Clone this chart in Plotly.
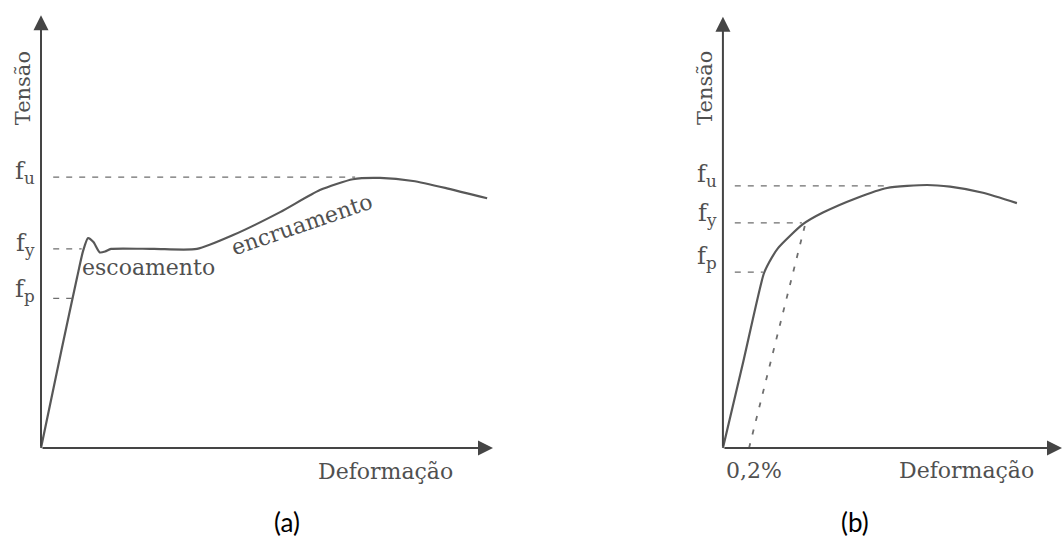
import plotly.graph_objects as go

# ---------------- data (arbitrary schematic units, 0-100) ----------------
# Panel (a): steel with yield plateau
a_strain = [0, 4.5, 8.0, 9.3, 10.4, 11.6, 13.0, 14.2, 15.5, 25.0, 34.5, 42.5, 52.9, 61.7, 69.0, 75.0, 82.3, 89.8, 98.7]
a_stress = [0, 22.5, 39.5, 45.5, 48.5, 47.6, 45.2, 45.4, 46.0, 46.0, 46.0, 49.2, 54.5, 59.6, 62.1, 62.4, 61.7, 60.0, 57.7]
a_ref_labels = ["f<sub>u</sub>", "f<sub>y</sub>", "f<sub>p</sub>"]
a_ref_stress = [62.6, 46.0, 34.6]
a_ref_end = [69.5, 9.0, 8.2]

# Panel (b): material without yield plateau (0,2% offset)
b_strain = [0, 6.0, 12.0, 13.6, 16.2, 23.6, 29.5, 39.5, 48.4, 60.2, 67.0, 76.7, 86.7]
b_stress = [0, 20.0, 40.3, 43.0, 46.3, 51.9, 54.6, 58.0, 60.3, 61.0, 60.6, 59.2, 56.8]
b_ref_labels = ["f<sub>u</sub>", "f<sub>y</sub>", "f<sub>p</sub>"]
b_ref_stress = [60.8, 52.2, 40.8]
b_ref_end = [49.3, 23.3, 11.8]
b_offset_strain = [7.7, 24.2]
b_offset_stress = [0, 51.7]
b_offset_label = "0,2%"

x_title = "Deformação"
y_title = "Tensão"
captions = ["(a)", "(b)"]

# ---------------- styling ----------------
CURVE = "#585858"
AXIS = "#454545"
DASH = "#6e6e6e"
TXT = "#505050"
SERIF = "DejaVu Serif, Liberation Serif, serif"

fig = go.Figure()

def add_panel(xr, yr, strain, stress, ref_stress, ref_end, ref_start):
    fig.add_trace(go.Scatter(x=strain, y=stress, mode="lines",
                             line=dict(color=CURVE, width=2.2, shape="spline", smoothing=0.6),
                             xaxis=xr, yaxis=yr, hoverinfo="skip", showlegend=False))
    for s, e in zip(ref_stress, ref_end):
        fig.add_trace(go.Scatter(x=[ref_start, e], y=[s, s], mode="lines",
                                 line=dict(color=DASH, width=1.3, dash="6px,7px"),
                                 xaxis=xr, yaxis=yr, hoverinfo="skip", showlegend=False))

add_panel("x", "y", a_strain, a_stress, a_ref_stress, a_ref_end, 2.7)
add_panel("x2", "y2", b_strain, b_stress, b_ref_stress, b_ref_end, 3.5)

fig.add_trace(go.Scatter(x=b_offset_strain, y=b_offset_stress, mode="lines",
                         line=dict(color=DASH, width=1.8, dash="5px,9px"),
                         xaxis="x2", yaxis="y2", hoverinfo="skip", showlegend=False))

ann = []
def arrow(xr, yr, x, y):
    ann.append(dict(x=x, y=y, ax=0, ay=0, xref=xr, yref=yr, axref=xr, ayref=yr,
                    text="", showarrow=True, arrowhead=2, arrowsize=1.5,
                    arrowwidth=2, arrowcolor=AXIS, standoff=0, startstandoff=0))

def txt(xr, yr, x, y, t, size=22, angle=0, color=TXT, font=SERIF, xanchor="center"):
    ann.append(dict(x=x, y=y, xref=xr, yref=yr, text=t, showarrow=False,
                    textangle=angle, xanchor=xanchor, yanchor="middle",
                    font=dict(family=font, size=size, color=color)))

for xr, yr in (("x", "y"), ("x2", "y2")):
    arrow(xr, yr, 100, 0)
    arrow(xr, yr, 0, 100)

# panel (a) texts
txt("x", "y", -4.0, 83.1, y_title, size=21, angle=-90)
txt("x", "y", 76.3, -5.5, x_title, size=22)
txt("x", "y", 23.7, 41.6, "escoamento", size=22)
txt("x", "y", 57.7, 51.7, "encruamento", size=22, angle=-19)
for lab, yv in zip(a_ref_labels, [63.7, 47.1, 36.3]):
    txt("x", "y", -0.9, yv, lab, size=24, xanchor="right")
txt("x", "y", 54.4, -17.1, captions[0], size=26, color="#000000", font="Lato, Open Sans, sans-serif")

# panel (b) texts
txt("x2", "y2", -5.3, 83.5, y_title, size=21, angle=-90)
txt("x2", "y2", 71.7, -5.1, x_title, size=22)
txt("x2", "y2", 9.1, -5.1, b_offset_label, size=22)
for lab, yv in zip(b_ref_labels, [63.1, 54.1, 44.1]):
    txt("x2", "y2", -1.2, yv, lab, size=24, xanchor="right")
txt("x2", "y2", 38.9, -17.2, captions[1], size=26, color="#000000", font="Lato, Open Sans, sans-serif")

ax_common = dict(visible=False, showgrid=False, zeroline=False, fixedrange=True)
fig.update_layout(
    width=1062, height=539,
    margin=dict(l=0, r=0, t=0, b=0),
    paper_bgcolor="white", plot_bgcolor="white",
    xaxis=dict(domain=[0, 0.5], range=[-9.07, 108.4], **ax_common),
    yaxis=dict(domain=[0, 1], range=[-21.0, 103.5], **ax_common),
    xaxis2=dict(domain=[0.5, 1], range=[-56.6, 100], **ax_common),
    yaxis2=dict(domain=[0, 1], range=[-21.1, 103.9], anchor="x2", **ax_common),
    annotations=ann,
    showlegend=False,
)
fig.write_html("out.html", config={"displayModeBar": False},
               post_script="document.body.style.margin='0';document.body.style.overflow='hidden';")
